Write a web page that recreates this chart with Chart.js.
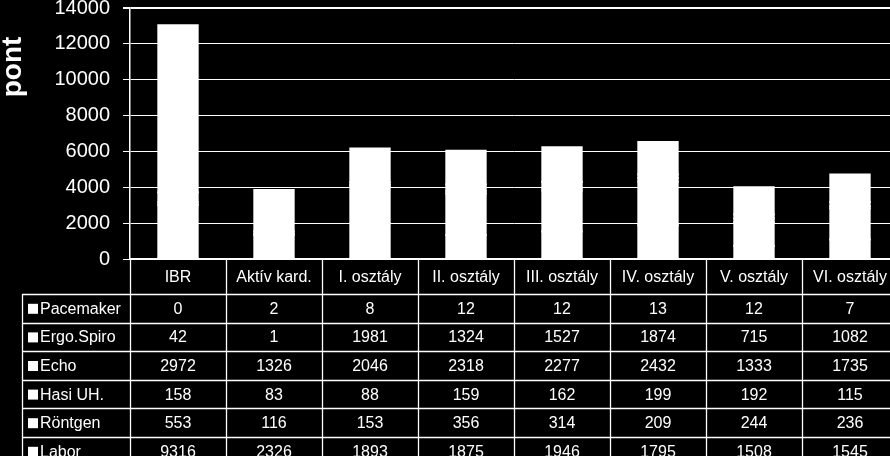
<!DOCTYPE html>
<html><head><meta charset="utf-8">
<script src="https://cdn.jsdelivr.net/npm/chart.js@4/dist/chart.umd.min.js"></script>
<style>html,body{margin:0;padding:0;background:#000;overflow:hidden;width:890px;height:456px}canvas{display:block}</style>
</head><body><canvas id="c" width="900" height="456"></canvas>
<script>
const categories = ['IBR','Aktív kard.','I. osztály','II. osztály','III. osztály','IV. osztály','V. osztály','VI. osztály'];
const seriesNames = ['Pacemaker','Ergo.Spiro','Echo','Hasi UH.','Röntgen','Labor'];
const pacemaker = [0, 2, 8, 12, 12, 13, 12, 7];
const ergoSpiro = [42, 1, 1981, 1324, 1527, 1874, 715, 1082];
const echo = [2972, 1326, 2046, 2318, 2277, 2432, 1333, 1735];
const hasiUH = [158, 83, 88, 159, 162, 199, 192, 115];
const rontgen = [553, 116, 153, 356, 314, 209, 244, 236];
const labor = [9316, 2326, 1893, 1875, 1946, 1795, 1508, 1545];
const yMin = 0, yMax = 14000, yStep = 2000;
const yTitle = 'pont';

const seriesValues = [pacemaker, ergoSpiro, echo, hasiUH, rontgen, labor];
const FONT = "'Liberation Sans', Arial, sans-serif";

const tablePlugin = {
  id: 'dataTable',
  afterDraw(chart) {
    const ctx = chart.ctx, xs = chart.scales.x, area = chart.chartArea;
    const n = categories.length;
    const cw = (xs.right - xs.left) / n;
    const headerTop = area.bottom;
    const headerBottom = xs.bottom;
    const rowH = 28.6;
    const tableLeft = 22;
    const bottom = 480;
    ctx.save();
    ctx.strokeStyle = '#fff';
    ctx.lineWidth = 1.3;
    const line = (x1, y1, x2, y2) => { ctx.beginPath(); ctx.moveTo(x1, y1); ctx.lineTo(x2, y2); ctx.stroke(); };
    for (let r = 0; r <= seriesNames.length; r++) {
      const y = Math.round(headerBottom + r * rowH) + 0.5;
      line(tableLeft, y, xs.right, y);
    }
    line(tableLeft + 0.5, headerBottom, tableLeft + 0.5, bottom);
    for (let i = 0; i <= n; i++) {
      const xb = Math.round(xs.left + i * cw) + 0.5;
      line(xb, headerTop, xb, bottom);
    }
    ctx.fillStyle = '#fff';
    ctx.font = '16px ' + FONT;
    ctx.textBaseline = 'middle';
    for (let r = 0; r < seriesNames.length; r++) {
      const yc = headerBottom + r * rowH + rowH / 2 + 1;
      ctx.fillRect(28, yc - 5.5, 10, 10);
      ctx.textAlign = 'left';
      ctx.fillText(seriesNames[r], 40, yc);
      ctx.textAlign = 'center';
      for (let i = 0; i < n; i++) {
        ctx.fillText(String(seriesValues[r][i]), xs.getPixelForValue(i), yc);
      }
    }
    // axis title
    ctx.translate(21, 67);
    ctx.rotate(-Math.PI / 2);
    ctx.font = 'bold 28px ' + FONT;
    ctx.textAlign = 'center';
    ctx.textBaseline = 'alphabetic';
    ctx.fillText(yTitle, 0, 0);
    ctx.restore();
  }
};

new Chart(document.getElementById('c'), {
  type: 'bar',
  data: {
    labels: categories,
    datasets: seriesNames.map((name, k) => ({
      label: name,
      data: seriesValues[k],
      backgroundColor: '#ffffff',
      borderWidth: 0,
      inflateAmount: 1,
      categoryPercentage: 1,
      barPercentage: 0.41
    }))
  },
  options: {
    responsive: false,
    animation: false,
    devicePixelRatio: 1,
    layout: { padding: { top: 8, left: 0, right: 2, bottom: 162 } },
    plugins: { legend: { display: false }, tooltip: { enabled: false } },
    scales: {
      x: {
        stacked: true,
        grid: { display: false, drawTicks: false },
        border: { display: true, color: '#fff', width: 2 },
        ticks: { color: '#fff', font: { family: FONT, size: 16 }, padding: 9, maxRotation: 0, autoSkip: false },
        afterFit(s) { s.height = 35; s.paddingLeft = 0; s.paddingRight = 0; }
      },
      y: {
        stacked: true,
        min: yMin, max: yMax,
        ticks: { stepSize: yStep, color: '#fff', font: { family: FONT, size: 20 }, padding: 13, callback: v => String(v) },
        grid: { color: '#fff', lineWidth: c => (c.tick && c.tick.value === yMax ? 2 : 1), tickLength: 7, tickColor: '#fff' },
        border: { display: true, color: '#fff', width: 1.5 },
        afterFit(s) { s.width = 130; s.paddingTop = 0; s.paddingBottom = 0; }
      }
    }
  },
  plugins: [tablePlugin]
});
</script></body></html>
